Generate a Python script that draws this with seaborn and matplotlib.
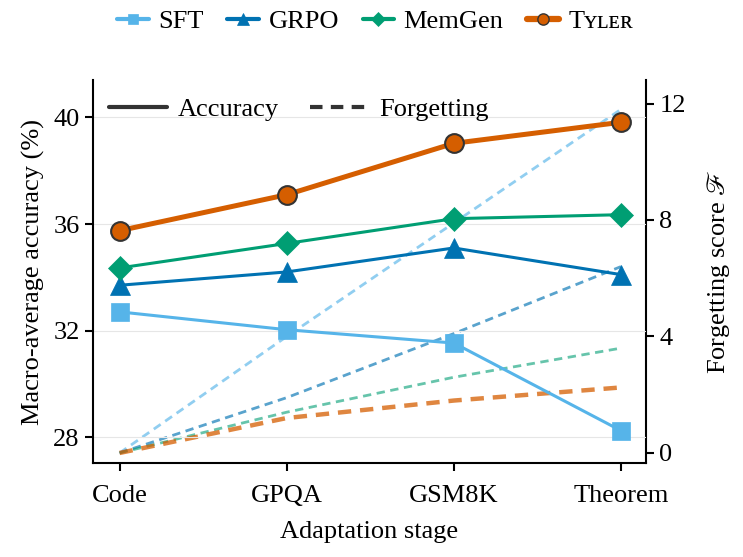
import matplotlib
matplotlib.use("Agg")
import matplotlib.pyplot as plt
import seaborn as sns
import pandas as pd
from matplotlib.lines import Line2D

stages = ["Code", "GPQA", "GSM8K", "Theorem"]
methods = ["SFT", "GRPO", "MemGen", "Tyler"]
method_labels = ["SFT", "GRPO", "MemGen", "Tʏʟᴇʀ"]

acc_sft = [32.7, 32.03, 31.53, 28.24]
acc_grpo = [33.7, 34.2, 35.1, 34.1]
acc_memgen = [34.35, 35.27, 36.2, 36.35]
acc_tyler = [35.75, 37.1, 39.03, 39.82]

forg_sft = [0.0, 4.0, 7.9, 11.8]
forg_grpo = [0.0, 1.9, 4.1, 6.4]
forg_memgen = [0.0, 1.4, 2.6, 3.6]
forg_tyler = [0.0, 1.2, 1.8, 2.25]

left_ticks = [28, 32, 36, 40]
right_ticks = [0, 4, 8, 12]

acc = {"SFT": acc_sft, "GRPO": acc_grpo, "MemGen": acc_memgen, "Tyler": acc_tyler}
forg = {"SFT": forg_sft, "GRPO": forg_grpo, "MemGen": forg_memgen, "Tyler": forg_tyler}

colors = {"SFT": "#56B4E9", "GRPO": "#0072B2", "MemGen": "#009E73", "Tyler": "#D55E00"}
markers = {"SFT": "s", "GRPO": "^", "MemGen": "D", "Tyler": "o"}
msize = {"SFT": 12.5, "GRPO": 14.5, "MemGen": 12.5, "Tyler": 13.5}
lw = {"SFT": 2.2, "GRPO": 2.2, "MemGen": 2.2, "Tyler": 3.6}
dlw = {"SFT": 2.0, "GRPO": 2.0, "MemGen": 2.0, "Tyler": 3.2}
dalpha = {"SFT": 0.65, "GRPO": 0.65, "MemGen": 0.6, "Tyler": 0.75}

sns.set_style("ticks")
plt.rcParams["font.family"] = ["Liberation Serif", "DejaVu Serif"]
plt.rcParams["mathtext.fontset"] = "stix"
plt.rcParams["text.color"] = "black"
plt.rcParams["axes.labelcolor"] = "black"
plt.rcParams["xtick.color"] = "black"
plt.rcParams["ytick.color"] = "black"
FS = 19

fig = plt.figure(figsize=(7.43, 5.57), dpi=100)
ax = fig.add_axes([0.125, 0.169, 0.7445, 0.687])
ax2 = ax.twinx()

rows_a = []
rows_f = []
for m in methods:
    for s, a, f in zip(stages, acc[m], forg[m]):
        rows_a.append({"stage": s, "method": m, "val": a})
        rows_f.append({"stage": s, "method": m, "val": f})
dfa = pd.DataFrame(rows_a)
dff = pd.DataFrame(rows_f)

for m in methods:
    d = dff[dff.method == m]
    sns.lineplot(data=d, x="stage", y="val", ax=ax2, color=colors[m],
                 linestyle=(0, (3, 2)), linewidth=dlw[m], alpha=dalpha[m],
                 legend=False, zorder=2)

for m in methods:
    d = dfa[dfa.method == m]
    ec = "#333333" if m == "Tyler" else colors[m]
    sns.lineplot(data=d, x="stage", y="val", ax=ax, color=colors[m],
                 linewidth=lw[m], marker=markers[m], markersize=msize[m],
                 markeredgecolor=ec, markeredgewidth=1.5 if m == "Tyler" else 0.5,
                 legend=False, zorder=4 if m == "Tyler" else 3)

ax.set_zorder(ax2.get_zorder() + 1)
ax.patch.set_visible(False)

ax.set_xlim(-0.16, 3.15)
ax.set_ylim(27.03, 41.4)
ax2.set_ylim(-0.34, 12.8)
ax.set_yticks(left_ticks)
ax2.set_yticks(right_ticks)
ax.set_yticklabels([str(t) for t in left_ticks])
ax2.set_yticklabels([str(t) for t in right_ticks])

ax.grid(axis="y", color="#e6e6e6", linewidth=0.8)
ax.set_axisbelow(True)
ax2.grid(False)

for a in (ax, ax2):
    a.spines["top"].set_visible(False)
    for sp in ("left", "right", "bottom"):
        a.spines[sp].set_linewidth(1.5)
        a.spines[sp].set_color("black")
    a.tick_params(axis="both", labelsize=FS, width=1.5, length=6, direction="out",
                  colors="black", labelcolor="black")
ax.tick_params(axis="x", pad=10)
ax.spines["right"].set_visible(False)
ax2.spines["left"].set_visible(False)
ax2.spines["bottom"].set_visible(False)

ax.set_xlabel("Adaptation stage", fontsize=FS, labelpad=10, color="black")
ax.set_ylabel("Macro-average accuracy (%)", fontsize=FS, labelpad=6, color="black")
ax2.set_ylabel(r"Forgetting score $\mathscr{F}$", fontsize=FS, labelpad=14, color="black")

style_handles = [Line2D([0], [0], color="#333333", lw=3, linestyle="-"),
                 Line2D([0], [0], color="#333333", lw=3, linestyle=(0, (3, 2)))]
ax.legend(style_handles, ["Accuracy", "Forgetting"], loc="upper left", ncol=2,
          frameon=False, fontsize=FS, handlelength=2.2, columnspacing=1.2,
          handletextpad=0.4, bbox_to_anchor=(0.0, 0.995), borderaxespad=0.2,
          labelcolor="black")

m_handles = []
for m in methods:
    ec = "#333333" if m == "Tyler" else colors[m]
    m_handles.append(Line2D([0], [0], color=colors[m], lw=4.5 if m == "Tyler" else 3,
                            marker=markers[m], markersize=msize[m] * 0.6,
                            markeredgecolor=ec, markeredgewidth=1.0 if m == "Tyler" else 0.5))
fig.legend(m_handles, method_labels, loc="upper center", ncol=4, frameon=False,
           fontsize=FS, bbox_to_anchor=(0.505, 1.025), handlelength=1.2,
           handletextpad=0.35, columnspacing=0.9, labelcolor="black")

fig.savefig("out.png", dpi=100)
